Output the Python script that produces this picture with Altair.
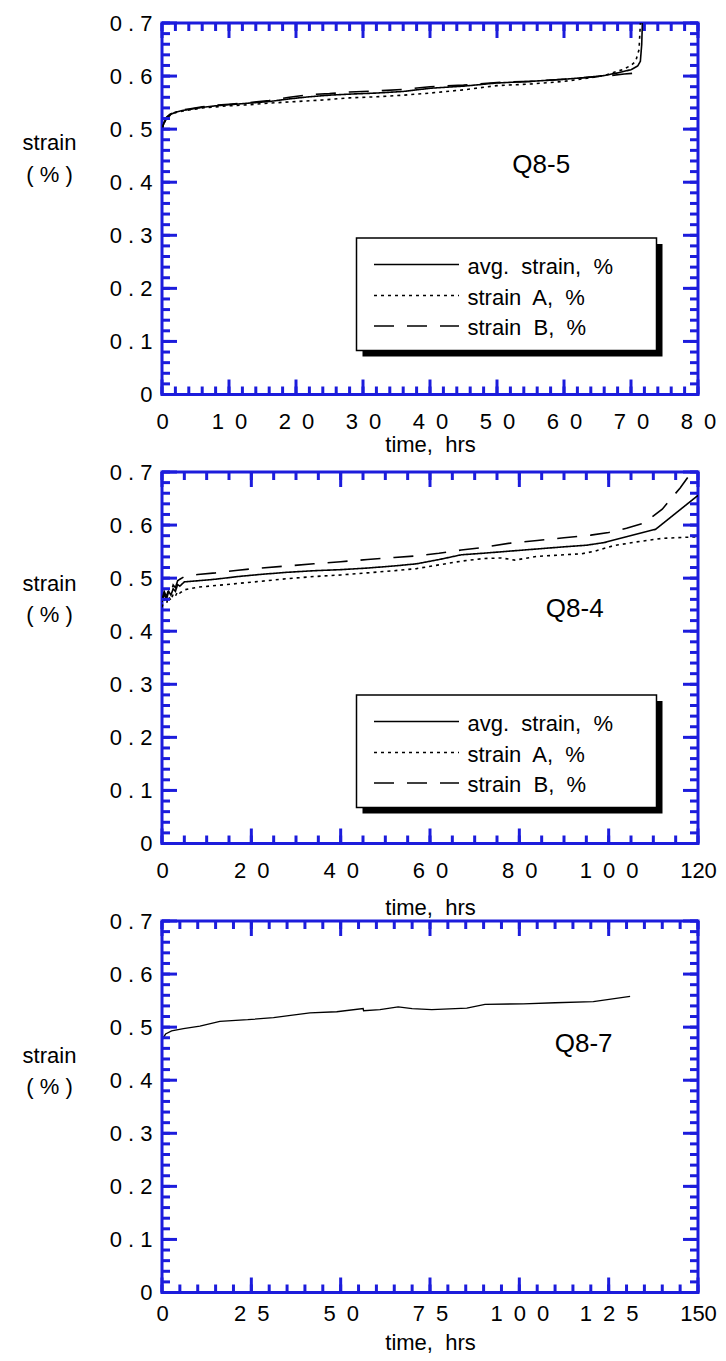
import altair as alt
import pandas as pd

# ---------------- data ----------------
SERIES = ["avg.\u00a0 strain,\u00a0 %", "strain\u00a0 A,\u00a0 %", "strain\u00a0 B,\u00a0 %"]
DASHES = [[1, 0], [3, 4], [20, 13]]

# Q8-5
q85_avg_t = [0, 0.3, 0.7, 1.2, 2, 3, 4, 6, 8, 10, 13, 16, 19, 22, 25, 28, 32, 36, 40, 45, 50, 55, 60, 63, 66, 68, 70, 71, 71.4, 71.6, 71.7]
q85_avg = [0.500, 0.512, 0.522, 0.527, 0.532, 0.535, 0.537, 0.541, 0.544, 0.546, 0.549, 0.552, 0.557, 0.561, 0.564, 0.566, 0.568, 0.571, 0.577, 0.581, 0.587, 0.590, 0.594, 0.597, 0.601, 0.606, 0.612, 0.619, 0.628, 0.660, 0.700]
q85_a_t = [0, 0.3, 0.7, 1.2, 2, 3, 4, 6, 8, 10, 13, 16, 20, 24, 28, 32, 36, 40, 45, 50, 55, 60, 63, 66, 68.7, 70, 70.7, 71.2, 71.4]
q85_a = [0.500, 0.511, 0.520, 0.526, 0.531, 0.534, 0.536, 0.540, 0.542, 0.544, 0.546, 0.549, 0.552, 0.555, 0.559, 0.561, 0.564, 0.568, 0.574, 0.582, 0.585, 0.590, 0.595, 0.601, 0.612, 0.620, 0.628, 0.650, 0.700]
q85_b_t = [0, 0.3, 0.7, 1.2, 2, 3, 4, 6, 8, 10, 13, 16, 19, 22, 25, 28, 32, 36, 40, 45, 50, 55, 60, 64, 67, 69, 71]
q85_b = [0.500, 0.512, 0.523, 0.528, 0.533, 0.536, 0.538, 0.542, 0.545, 0.547, 0.550, 0.554, 0.560, 0.565, 0.567, 0.570, 0.572, 0.575, 0.580, 0.583, 0.588, 0.590, 0.594, 0.598, 0.601, 0.604, 0.606]

# Q8-4
q84_avg_t = [0, 0.5, 1, 1.5, 2, 2.5, 3, 3.5, 4, 5, 8, 12, 17, 22, 28, 34, 40, 46, 52, 57, 62, 67, 72, 78, 84, 90, 95, 99, 104, 110.5, 120]
q84_avg = [0.455, 0.470, 0.460, 0.475, 0.468, 0.480, 0.475, 0.488, 0.485, 0.493, 0.495, 0.498, 0.503, 0.507, 0.511, 0.514, 0.516, 0.519, 0.523, 0.527, 0.535, 0.544, 0.547, 0.551, 0.555, 0.559, 0.562, 0.567, 0.578, 0.592, 0.656]
q84_a_t = [0, 0.5, 1, 1.5, 2, 2.5, 3, 3.5, 4, 5, 8, 12, 17, 22, 28, 34, 40, 46, 52, 57, 62, 67, 72, 76, 79, 84, 90, 94, 97, 101, 106, 112, 120]
q84_a = [0.445, 0.460, 0.452, 0.465, 0.458, 0.470, 0.466, 0.475, 0.472, 0.478, 0.483, 0.486, 0.490, 0.494, 0.499, 0.503, 0.506, 0.510, 0.514, 0.518, 0.525, 0.532, 0.537, 0.538, 0.534, 0.541, 0.544, 0.546, 0.551, 0.561, 0.568, 0.575, 0.578]
q84_b_t = [0, 0.5, 1, 1.5, 2, 2.5, 3, 3.5, 4, 5, 8, 12, 17, 22, 28, 34, 40, 46, 52, 57, 62, 67, 72, 78, 84, 90, 96, 100, 104, 108, 112, 116, 119]
q84_b = [0.460, 0.475, 0.465, 0.480, 0.472, 0.487, 0.482, 0.495, 0.498, 0.503, 0.507, 0.510, 0.515, 0.519, 0.523, 0.527, 0.531, 0.535, 0.539, 0.542, 0.547, 0.553, 0.558, 0.566, 0.571, 0.576, 0.581, 0.586, 0.594, 0.604, 0.630, 0.670, 0.705]

# Q8-7
q87_avg_t = [0.2, 1, 2.7, 6, 10.6, 16.2, 24, 31.2, 36, 41.4, 48.9, 56.3, 56.4, 61, 66.1, 70, 75.5, 85.3, 90.4, 101.1, 110, 120.7, 131]
q87_avg = [0.478, 0.487, 0.493, 0.497, 0.502, 0.511, 0.514, 0.518, 0.522, 0.527, 0.529, 0.535, 0.531, 0.533, 0.538, 0.535, 0.533, 0.536, 0.543, 0.544, 0.546, 0.548, 0.558]

# tick positions and tick labels
Y_MAJOR = [0, 0.1, 0.2, 0.3, 0.4, 0.5, 0.6, 0.7]
Y_LABELS = ["0", "0.1", "0.2", "0.3", "0.4", "0.5", "0.6", "0.7"]
Y_MINOR = [round(i * 0.02, 2) for i in range(36)]
X1_MAJOR = [0, 10, 20, 30, 40, 50, 60, 70, 80]
X1_LABELS = ["0", "10", "20", "30", "40", "50", "60", "70", "80"]
X1_MINOR = list(range(0, 81, 2))
X2_MAJOR = [0, 20, 40, 60, 80, 100, 120]
X2_LABELS = ["0", "20", "40", "60", "80", "100", "120"]
X2_MINOR = list(range(0, 121, 5))
X3_MAJOR = [0, 25, 50, 75, 100, 125, 150]
X3_LABELS = ["0", "25", "50", "75", "100", "125", "150"]
X3_MINOR = list(range(0, 151, 5))

# ---------------- style ----------------
BLUE = "#1c1cdc"
FONT = "Liberation Sans"
W = 536
H = 371.5


def label_expr(values, labels, sep, last_compact=False):
    parts = []
    for i, (v, s) in enumerate(zip(values, labels)):
        gap = "" if (last_compact and i == len(values) - 1 and len(s) > 2) else sep
        parts.append("abs(datum.value - (%s)) < 1e-6 ? '%s'" % (v, gap.join(list(s))))
    return " : ".join(parts) + " : ''"


def long_df(pairs):
    rows = []
    for name, ts, vs in pairs:
        for t, v in zip(ts, vs):
            rows.append({"t": t, "s": v, "series": name})
    return pd.DataFrame(rows)


def tick_layers(xs, ys, xaxis, yaxis, xmaj, xmin_):
    layers = []
    for vals, L in ((xmaj, 15), (xmin_, 8)):
        base = alt.Chart(pd.DataFrame({"t": vals})).mark_rule(color=BLUE, strokeWidth=3)
        layers.append(base.encode(x=alt.X("t:Q", scale=xs, axis=xaxis), y=alt.value(0), y2=alt.value(L)))
        layers.append(base.encode(x=alt.X("t:Q", scale=xs, axis=xaxis), y=alt.value(H), y2=alt.value(H - L)))
    for vals, L in ((Y_MAJOR, 15), (Y_MINOR, 8)):
        base = alt.Chart(pd.DataFrame({"s": vals})).mark_rule(color=BLUE, strokeWidth=3)
        layers.append(base.encode(y=alt.Y("s:Q", scale=ys, axis=yaxis), x=alt.value(0), x2=alt.value(L)))
        layers.append(base.encode(y=alt.Y("s:Q", scale=ys, axis=yaxis), x=alt.value(W), x2=alt.value(W - L)))
    return layers


def legend_layers(ly):
    """Boxed legend with drop shadow, drawn inside the plot area."""
    lx, bw, bh = 194.5, 300, 112.5
    one = pd.DataFrame({"k": [0]})
    layers = [
        alt.Chart(one).mark_rect(color="black").encode(
            x=alt.value(lx + 6), x2=alt.value(lx + 6 + bw), y=alt.value(ly + 6), y2=alt.value(ly + 6 + bh)),
        alt.Chart(one).mark_rect(fill="white", stroke="black", strokeWidth=1.5).encode(
            x=alt.value(lx), x2=alt.value(lx + bw), y=alt.value(ly), y2=alt.value(ly + bh)),
    ]
    row_y = [26.5, 57.5, 88]
    for name, dash, ry in zip(SERIES, DASHES, row_y):
        layers.append(alt.Chart(one).mark_rule(color="black", strokeWidth=1.6, strokeDash=dash).encode(
            x=alt.value(lx + 17.5), x2=alt.value(lx + 102.5), y=alt.value(ly + ry)))
        layers.append(alt.Chart(pd.DataFrame({"name": [name]})).mark_text(
            font=FONT, fontSize=22, color="black", align="left", baseline="middle").encode(
            x=alt.value(lx + 111), y=alt.value(ly + ry + 2), text="name:N"))
    return layers


def panel(df, xmax, xmaj, xlabels, xmin_, name, name_pos, legend_y, ytitle_y, ytitle_lh,
          xlabel_pad, xtitle_y, dashed):
    xs = alt.Scale(domain=[0, xmax], nice=False, zero=False)
    ys = alt.Scale(domain=[0, 0.7], nice=False, zero=False)
    xaxis = alt.Axis(values=xmaj, labelExpr=label_expr(xmaj, xlabels, "\u2002", last_compact=True),
                     ticks=False, domain=False, grid=False, labelFlush=False, labelOverlap=False,
                     labelPadding=xlabel_pad, labelFontSize=22,
                     title="time,\u00a0 hrs", titleX=W / 2, titleY=xtitle_y, titleAlign="center",
                     titleBaseline="alphabetic", titleFontSize=22, titleFontWeight="normal")
    yaxis = alt.Axis(values=Y_MAJOR, labelExpr=label_expr(Y_MAJOR, Y_LABELS, " "),
                     ticks=False, domain=False, grid=False, labelFlush=False, labelOverlap=False,
                     labelPadding=10, labelFontSize=22,
                     title=["strain", "( % )"], titleAngle=0, titleAlign="center",
                     titleBaseline="alphabetic", titleX=-113, titleY=ytitle_y,
                     titleLineHeight=ytitle_lh, titleFontSize=22, titleFontWeight="normal")
    layers = []
    if dashed:
        line = alt.Chart(df).mark_line(color="black", strokeWidth=1.6, clip=True).encode(
            x=alt.X("t:Q", scale=xs, axis=xaxis),
            y=alt.Y("s:Q", scale=ys, axis=yaxis),
            strokeDash=alt.StrokeDash("series:N", scale=alt.Scale(domain=SERIES, range=DASHES), legend=None),
        )
    else:
        line = alt.Chart(df).mark_line(color="black", strokeWidth=1.3, clip=True).encode(
            x=alt.X("t:Q", scale=xs, axis=xaxis),
            y=alt.Y("s:Q", scale=ys, axis=yaxis),
        )
    layers.append(line)
    label = alt.Chart(pd.DataFrame({"name": [name], "t": [name_pos[0]], "s": [name_pos[1]]})).mark_text(
        font=FONT, fontSize=26, color="black", align="center", baseline="alphabetic"
    ).encode(x=alt.X("t:Q", scale=xs, axis=xaxis), y=alt.Y("s:Q", scale=ys, axis=yaxis), text="name:N")
    layers.append(label)
    if dashed:
        layers += legend_layers(legend_y)
    layers += tick_layers(xs, ys, xaxis, yaxis, xmaj, xmin_)
    return alt.layer(*layers).properties(width=W, height=H)


df1 = long_df([(SERIES[0], q85_avg_t, q85_avg), (SERIES[1], q85_a_t, q85_a), (SERIES[2], q85_b_t, q85_b)])
df2 = long_df([(SERIES[0], q84_avg_t, q84_avg), (SERIES[1], q84_a_t, q84_a), (SERIES[2], q84_b_t, q84_b)])
df3 = long_df([(SERIES[0], q87_avg_t, q87_avg)])

p1 = panel(df1, 80, X1_MAJOR, X1_LABELS, X1_MINOR, "Q8-5", (56.6, 0.4175), 215, 126, 32, 16.5, 57, True)
p2 = panel(df2, 120, X2_MAJOR, X2_LABELS, X2_MINOR, "Q8-4", (92.4, 0.426), 223, 118, 31, 16.5, 71, True)
p3 = panel(df3, 150, X3_MAJOR, X3_LABELS, X3_MINOR, "Q8-7", (118, 0.454), 0, 141, 31, 10.5, 57, False)

chart = alt.vconcat(p1, p2, p3, spacing=77, bounds="flush").resolve_scale(
    strokeDash="independent"
).properties(
    padding={"left": 12, "top": 2, "right": 0, "bottom": 0}
).configure_view(stroke=BLUE, strokeWidth=3).configure_axis(
    labelFont=FONT, titleFont=FONT, labelColor="black", titleColor="black"
)

chart.save("out.html", embed_options={"renderer": "svg", "actions": False})
